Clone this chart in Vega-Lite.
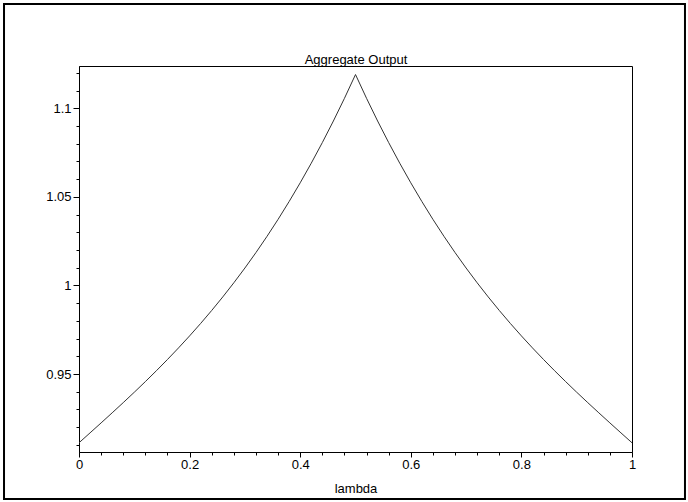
{
  "$schema": "https://vega.github.io/schema/vega-lite/v6.json",
  "autosize": "none",
  "padding": {"left": 79, "top": 66, "right": 56, "bottom": 50},
  "width": 553,
  "height": 386,
  "background": "white",
  "config": {
    "view": {"stroke": "black", "strokeWidth": 1},
    "axis": {"labelFont": "Liberation Sans", "titleFont": "Liberation Sans", "labelColor": "black", "titleColor": "black", "domainColor": "black", "tickColor": "black", "grid": false, "labelFontSize": 13, "titleFontSize": 13, "titleFontWeight": "normal", "labelOverlap": false, "labelFlush": false}
  },
  "resolve": {"axis": {"x": "independent", "y": "independent"}},
  "layer": [
    {
      "data": {"values": [
        {"lambda": 0.00, "output": 0.91120},
        {"lambda": 0.02, "output": 0.91680},
        {"lambda": 0.04, "output": 0.92243},
        {"lambda": 0.06, "output": 0.92812},
        {"lambda": 0.08, "output": 0.93388},
        {"lambda": 0.10, "output": 0.93974},
        {"lambda": 0.12, "output": 0.94574},
        {"lambda": 0.14, "output": 0.95189},
        {"lambda": 0.16, "output": 0.95822},
        {"lambda": 0.18, "output": 0.96477},
        {"lambda": 0.20, "output": 0.97154},
        {"lambda": 0.22, "output": 0.97858},
        {"lambda": 0.24, "output": 0.98591},
        {"lambda": 0.26, "output": 0.99354},
        {"lambda": 0.28, "output": 1.00152},
        {"lambda": 0.30, "output": 1.00986},
        {"lambda": 0.32, "output": 1.01859},
        {"lambda": 0.34, "output": 1.02774},
        {"lambda": 0.36, "output": 1.03733},
        {"lambda": 0.38, "output": 1.04740},
        {"lambda": 0.40, "output": 1.05795},
        {"lambda": 0.42, "output": 1.06903},
        {"lambda": 0.44, "output": 1.08066},
        {"lambda": 0.46, "output": 1.09285},
        {"lambda": 0.48, "output": 1.10565},
        {"lambda": 0.50, "output": 1.11908},
        {"lambda": 0.52, "output": 1.10565},
        {"lambda": 0.54, "output": 1.09285},
        {"lambda": 0.56, "output": 1.08066},
        {"lambda": 0.58, "output": 1.06903},
        {"lambda": 0.60, "output": 1.05795},
        {"lambda": 0.62, "output": 1.04740},
        {"lambda": 0.64, "output": 1.03733},
        {"lambda": 0.66, "output": 1.02774},
        {"lambda": 0.68, "output": 1.01859},
        {"lambda": 0.70, "output": 1.00986},
        {"lambda": 0.72, "output": 1.00152},
        {"lambda": 0.74, "output": 0.99354},
        {"lambda": 0.76, "output": 0.98591},
        {"lambda": 0.78, "output": 0.97858},
        {"lambda": 0.80, "output": 0.97154},
        {"lambda": 0.82, "output": 0.96477},
        {"lambda": 0.84, "output": 0.95822},
        {"lambda": 0.86, "output": 0.95189},
        {"lambda": 0.88, "output": 0.94574},
        {"lambda": 0.90, "output": 0.93974},
        {"lambda": 0.92, "output": 0.93388},
        {"lambda": 0.94, "output": 0.92812},
        {"lambda": 0.96, "output": 0.92243},
        {"lambda": 0.98, "output": 0.91680},
        {"lambda": 1.00, "output": 0.91120}
      ]},
      "mark": {"type": "line", "color": "#333333", "strokeWidth": 1},
      "encoding": {
        "x": {
          "field": "lambda", "type": "quantitative",
          "scale": {"domain": [0, 1], "nice": false, "zero": false},
          "axis": {
            "orient": "bottom",
            "title": "lambda",
            "values": [0, 0.04, 0.08, 0.12, 0.16, 0.2, 0.24, 0.28, 0.32, 0.36, 0.4, 0.44, 0.48, 0.52, 0.56, 0.6, 0.64, 0.68, 0.72, 0.76, 0.8, 0.84, 0.88, 0.92, 0.96, 1],
            "labelExpr": "round(datum.value*100) % 20 == 0 ? format(datum.value, '~g') : ''",
            "tickSize": {"condition": {"test": "round(datum.value*100) % 20 == 0", "value": 5}, "value": 3},
            "labelPadding": 1,
            "titlePadding": 11
          }
        },
        "y": {
          "field": "output", "type": "quantitative",
          "scale": {"domain": [0.906, 1.1239], "nice": false, "zero": false},
          "axis": {
            "orient": "left",
            "title": null,
            "values": [0.91, 0.92, 0.93, 0.94, 0.95, 0.96, 0.97, 0.98, 0.99, 1.0, 1.01, 1.02, 1.03, 1.04, 1.05, 1.06, 1.07, 1.08, 1.09, 1.1, 1.11, 1.12],
            "labelExpr": "round(datum.value*100) % 5 == 0 ? format(datum.value, '~g') : ''",
            "tickSize": {"condition": {"test": "round(datum.value*100) % 5 == 0", "value": 6}, "value": 3},
            "labelPadding": 2
          }
        }
      }
    },
    {
      "data": {"values": [{}]},
      "mark": {"type": "rect", "fill": null, "stroke": "black", "strokeWidth": 2, "clip": false},
      "encoding": {
        "x": {"datum": -0.1356, "type": "quantitative",
          "axis": {"orient": "top", "title": "Aggregate Output", "domain": false, "ticks": false, "labels": false, "titlePadding": 3, "titleBaseline": "alphabetic"}},
        "x2": {"datum": 1.0958},
        "y": {"datum": 1.1589, "type": "quantitative", "axis": null},
        "y2": {"datum": 0.8795}
      }
    }
  ]
}
